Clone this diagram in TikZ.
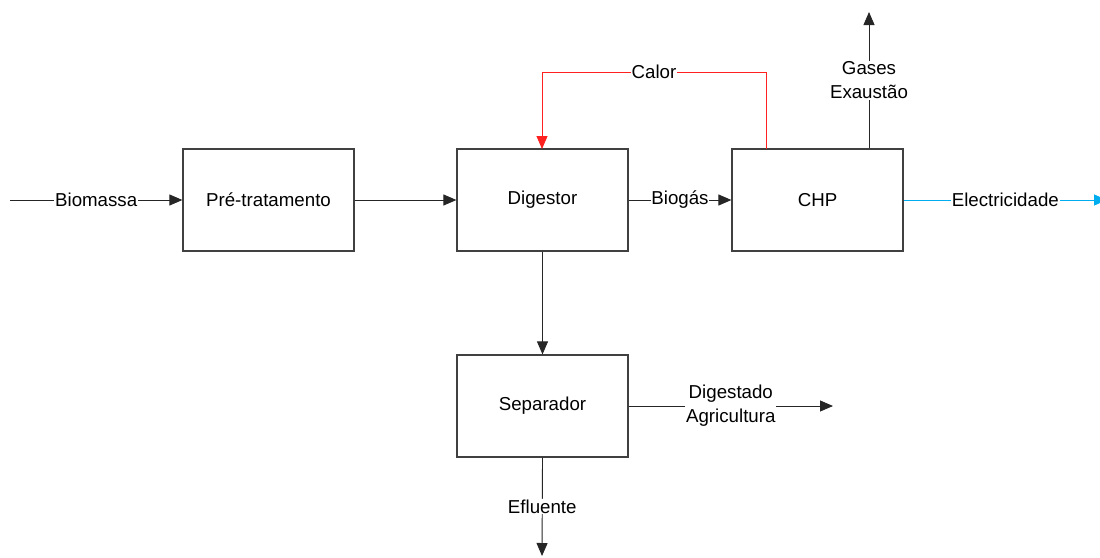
\documentclass[tikz,border=0pt]{standalone}
\usepackage{fontspec}
\setmainfont{Liberation Sans}
\usetikzlibrary{arrows.meta}
\definecolor{boxline}{HTML}{404040}
\definecolor{heat}{HTML}{FF2020}
\definecolor{elec}{HTML}{00AEEF}
\begin{document}
\begin{tikzpicture}[x=1pt,y=-1pt,
  font=\fontsize{18.7}{24}\selectfont,
  box/.style={draw=boxline,line width=1.2pt,minimum width=171pt,minimum height=102pt,inner sep=0pt},
  conn/.style={draw=black!85,line width=0.9pt,-{Triangle[length=13pt,width=11pt]}},
  lbl/.style={fill=white,inner sep=0.8pt,align=center}]
\useasboundingbox (0,0) rectangle (1100,557);
\node[box] (pre) at (268.5,200) {Pré-tratamento};
\node[box] (dig) at (542.5,200) {Digestor};
\node[box] (chp) at (817.5,200) {CHP};
\node[box] (sep) at (542.5,406) {Separador};
\coordinate (bin) at (10,200);
\coordinate (elout) at (1107,200);
\coordinate (gasout) at (869,12);
\coordinate (digout) at (833,406);
\coordinate (efout) at (542,556);
\coordinate (cchp) at (766,149);
\coordinate (cdig) at (542,149);
\draw[conn] (bin) -- (pre.west) node[lbl,midway]{Biomassa};
\draw[conn] (pre.east) -- (dig.west);
\draw[conn] (dig.east) -- (chp.west) node[lbl,midway]{Biogás};
\draw[conn,draw=elec,color=elec] (chp.east) -- (elout) node[lbl,midway,text=black]{Electricidade};
\draw[conn] (chp.north -| gasout) -- (gasout) node[lbl,midway]{Gases\\Exaustão};
\draw[conn,draw=heat,color=heat] (cchp) -- (766,72) -- node[lbl,midway,text=black]{Calor} (542,72) -- (cdig);
\draw[conn] (dig.south) -- (sep.north);
\draw[conn] (sep.east) -- (digout) node[lbl,midway]{Digestado\\Agricultura};
\draw[conn] (sep.south) -- (efout) node[lbl,midway]{Efluente};
\end{tikzpicture}
\end{document}
